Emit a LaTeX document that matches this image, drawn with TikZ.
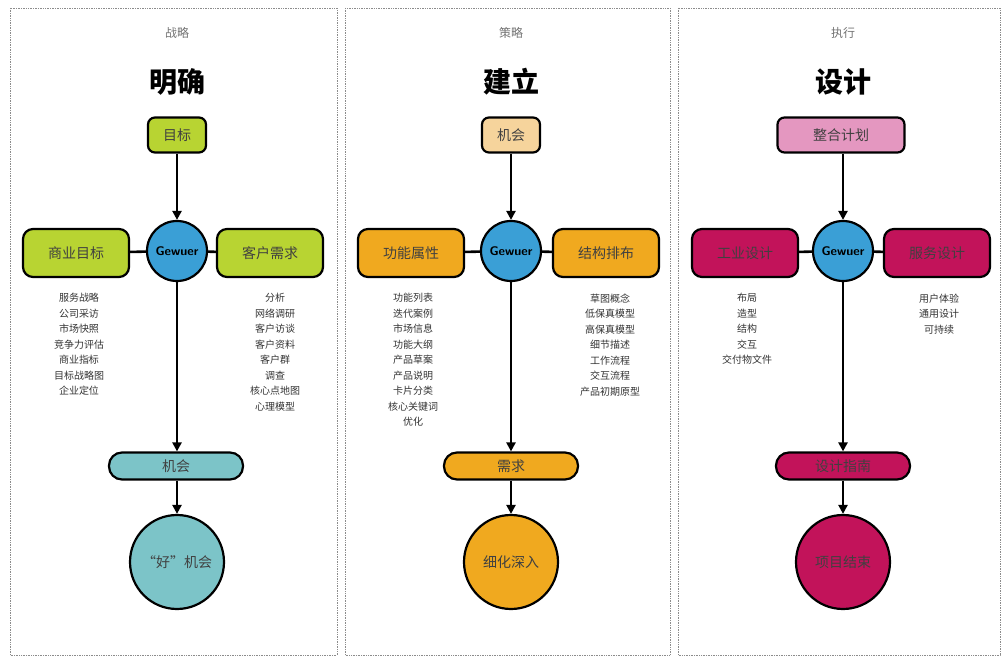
\documentclass[tikz,border=0pt]{standalone}
\usepackage{fontspec}
\setmainfont{Noto Sans CJK SC}
\usetikzlibrary{arrows.meta}
\definecolor{cgreen}{HTML}{B8D432}
\definecolor{cpeach}{HTML}{F6D49C}
\definecolor{cpink}{HTML}{E497C0}
\definecolor{corange}{HTML}{F0A91F}
\definecolor{cmag}{HTML}{C2135A}
\definecolor{cteal}{HTML}{7CC4C8}
\definecolor{cblue}{HTML}{3A9FD6}
\begin{document}
\begin{tikzpicture}[x=1pt,y=-1pt,
 box/.style={draw=black,line width=2.2pt,rounded corners=7pt,minimum height=35pt,font=\fontsize{14}{16}\selectfont,text=black!75},
 side/.style={box,minimum width=106pt,minimum height=48pt,rounded corners=10pt},
 pill/.style={draw=black,line width=2.2pt,rounded corners=13pt,minimum width=134pt,minimum height=27pt,font=\fontsize{14}{16}\selectfont,text=black!75},
 hub/.style={circle,draw=black,line width=2.2pt,fill=cblue,minimum size=60pt,inner sep=0pt,font=\fontsize{12.5}{13}\selectfont\bfseries\sffamily},
 big/.style={circle,draw=black,line width=2.2pt,minimum size=94pt,font=\fontsize{14}{16}\selectfont,text=black!75},
 lst/.style={align=center,font=\fontsize{10}{15.5}\selectfont,text=black!80,anchor=north},
 hdr/.style={font=\fontsize{12}{14}\selectfont,text=black!55},
 ttl/.style={font=\fontsize{28}{30}\selectfont\bfseries},
 ln/.style={line width=2.6pt},
 arr/.style={line width=2.6pt,-{Triangle[length=9pt,width=9pt]}},
 panel/.style={draw=black!45,densely dotted,line width=0.7pt}]
\useasboundingbox (0,0) rectangle (1002,663);
\draw[panel] (10,8) rectangle (337,655);
\draw[panel] (345,8) rectangle (670,655);
\draw[panel] (678,8) rectangle (1000,655);
% column 1
\node[hdr] (h1) at (177,33) {战略};
\node[ttl] (t1) at (177,82) {明确};
\node[box,fill=cgreen,minimum width=58pt] (a1) at (177,135) {目标};
\node[hub] (g1) at (177,251) {Gewuer};
\node[side,fill=cgreen] (l1) at (76,253) {商业目标};
\node[side,fill=cgreen] (r1) at (270,253) {客户需求};
\node[pill,fill=cteal] (p1) at (176,466) {机会};
\node[big,fill=cteal] (c1) at (177,562) {“好”机会};
\node[lst] (la1) at (79,290) {服务战略\\公司采访\\市场快照\\竞争力评估\\商业指标\\目标战略图\\企业定位};
\node[lst] (ra1) at (275,290) {分析\\网络调研\\客户访谈\\客户资料\\客户群\\调查\\核心点地图\\心理模型};
\draw[arr] (a1) -- (g1);
\draw[ln] (l1) -- (g1); \draw[ln] (r1) -- (g1);
\draw[arr] (g1) -- (g1 |- p1.north);
\draw[arr] (p1.south -| c1) -- (c1);
% column 2
\node[hdr] (h2) at (511,33) {策略};
\node[ttl] (t2) at (511,82) {建立};
\node[box,fill=cpeach,minimum width=58pt] (a2) at (511,135) {机会};
\node[hub] (g2) at (511,251) {Gewuer};
\node[side,fill=corange] (l2) at (411,253) {功能属性};
\node[side,fill=corange] (r2) at (606,253) {结构排布};
\node[pill,fill=corange] (p2) at (511,466) {需求};
\node[big,fill=corange] (c2) at (511,562) {细化深入};
\node[lst] (la2) at (413,290) {功能列表\\迭代案例\\市场信息\\功能大纲\\产品草案\\产品说明\\卡片分类\\核心关键词\\优化};
\node[lst] (ra2) at (610,290) {草图概念\\低保真模型\\高保真模型\\细节描述\\工作流程\\交互流程\\产品初期原型};
\draw[arr] (a2) -- (g2);
\draw[ln] (l2) -- (g2); \draw[ln] (r2) -- (g2);
\draw[arr] (g2) -- (p2);
\draw[arr] (p2) -- (c2);
% column 3
\node[hdr] (h3) at (843,33) {执行};
\node[ttl] (t3) at (843,82) {设计};
\node[box,fill=cpink,minimum width=127pt] (a3) at (841,135) {整合计划};
\node[hub] (g3) at (843,251) {Gewuer};
\node[side,fill=cmag] (l3) at (745,253) {工业设计};
\node[side,fill=cmag] (r3) at (937,253) {服务设计};
\node[pill,fill=cmag] (p3) at (843,466) {设计指南};
\node[big,fill=cmag] (c3) at (843,562) {项目结束};
\node[lst] (la3) at (747,290) {布局\\造型\\结构\\交互\\交付物文件};
\node[lst] (ra3) at (939,290) {用户体验\\通用设计\\可持续};
\draw[arr] (a3.south -| g3) -- (g3);
\draw[ln] (l3) -- (g3); \draw[ln] (r3) -- (g3);
\draw[arr] (g3) -- (p3);
\draw[arr] (p3) -- (c3);
\end{tikzpicture}
\end{document}
